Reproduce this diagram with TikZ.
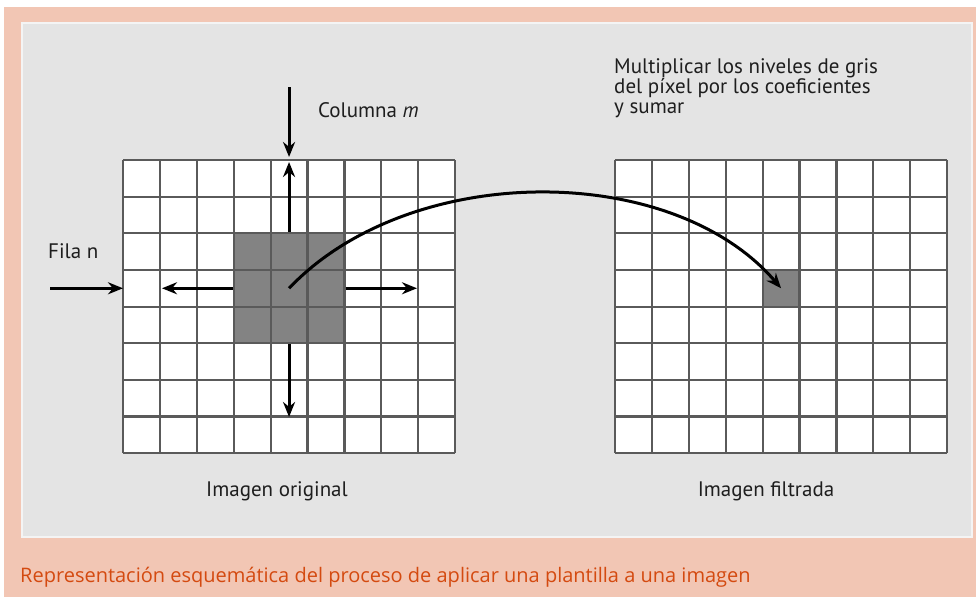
\documentclass[tikz,border=0pt]{standalone}
\usepackage{fontspec}
\setmainfont{PT Sans}
\newfontfamily\capfont{Open Sans}
\usetikzlibrary{arrows.meta}
\definecolor{peach}{HTML}{F2C6B4}
\definecolor{panel}{HTML}{E4E4E4}
\definecolor{gridc}{HTML}{5A5A5A}
\definecolor{fillc}{HTML}{838383}
\definecolor{capc}{HTML}{D44A10}
\definecolor{txt}{HTML}{1E1E1E}
\begin{document}
\begin{tikzpicture}[x=1pt,y=-1pt,
  lbl/.style={font=\fontsize{21}{20}\selectfont, text=txt, inner sep=0pt},
  arr/.style={line width=3pt, -{Stealth[length=15pt,width=12pt]}},
  gridline/.style={draw=gridc, line width=2.2pt},
  cellfill/.style={fill=fillc, draw=gridc, line width=2.2pt, inner sep=0pt}]
\useasboundingbox (0,0) rectangle (976,597);
\fill[peach] (4,7) rectangle (976,597);
\filldraw[fill=panel, draw=white!60!panel, line width=2pt] (22,23) rectangle (972,537);
\def\cw{36.9}
\def\ch{36.65}
% ---------- left grid ----------
\fill[white] (123,160) rectangle +(9*\cw,8*\ch);
\node[cellfill, minimum width=3*\cw pt, minimum height=3*\ch pt] (block) at (123+4.5*\cw,160+3.5*\ch) {};
\foreach \i in {0,...,9} \draw[gridline] (123+\i*\cw,160) -- ++(0,8*\ch);
\foreach \j in {0,...,8} \draw[gridline] (123,160+\j*\ch) -- ++(9*\cw,0);
% ---------- right grid ----------
\fill[white] (615,160) rectangle +(9*\cw,8*\ch);
\node[cellfill, minimum width=\cw pt, minimum height=\ch pt] (target) at (615+4.5*\cw,160+3.5*\ch) {};
\foreach \i in {0,...,9} \draw[gridline] (615+\i*\cw,160) -- ++(0,8*\ch);
\foreach \j in {0,...,8} \draw[gridline] (615,160+\j*\ch) -- ++(9*\cw,0);
% ---------- coordinates ----------
\coordinate (upT) at (block.center |- 0,162);
\coordinate (downT) at (block.center |- 0,417);
\coordinate (leftT) at (162,0 |- block.center);
\coordinate (rightT) at (417,0 |- block.center);
\coordinate (colS) at (block.center |- 0,87);
\coordinate (colE) at (block.center |- 0,157);
\coordinate (filS) at (50,0 |- block.center);
\coordinate (filE) at (123,0 |- block.center);
% ---------- arrows ----------
\draw[arr] (block.north) -- (upT);
\draw[arr] (block.south) -- (downT);
\draw[arr] (block.west) -- (leftT);
\draw[arr] (block.east) -- (rightT);
\draw[arr] (colS) -- (colE);
\draw[arr] (filS) -- (filE);
\draw[arr] (block.center) .. controls (410,161) and (672,161) .. (target.center);
% ---------- labels ----------
\node[lbl, anchor=west] (col) at (318,110) {Columna \textit{m}};
\node[lbl, anchor=west] (fil) at (48,251) {Fila n};
\node[lbl, anchor=north west, align=left] (mult) at (614,58) {Multiplicar los niveles de gris\\del píxel por los coeficientes\\y sumar};
\node[lbl] (orig) at (277,491) {Imagen original};
\node[lbl] (filt) at (766,491) {Imagen filtrada};
\node[inner sep=0pt, anchor=west, text=capc, font=\capfont\fontsize{20}{22}\selectfont] (cap) at (20,577) {Representación esquemática del proceso de aplicar una plantilla a una imagen};
\end{tikzpicture}
\end{document}
